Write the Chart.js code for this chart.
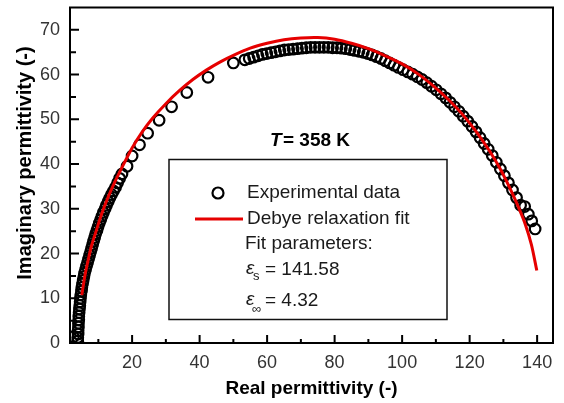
<!DOCTYPE html>
<html>
<head>
<meta charset="utf-8">
<script src="https://cdn.jsdelivr.net/npm/chart.js@4.4.1/dist/chart.umd.min.js"></script>
<style>
  html, body { margin: 0; padding: 0; background: #fff; }
  #wrap { width: 564px; height: 403px; }
</style>
</head>
<body>
<div id="wrap"><canvas id="chart"></canvas></div>
<script>
// experimental data (real / imaginary permittivity)
const realPerm = [
    2.6, 3.9, 3.9, 4.0, 4.0, 4.1, 4.1, 4.2, 4.2, 4.3, 4.4, 4.5, 4.6, 4.7, 4.8,
    5.0, 5.1, 5.3, 5.5, 5.7, 5.9, 6.2, 6.5, 6.8, 7.1, 7.4, 7.7, 8.0, 8.3, 8.6,
    8.9, 9.2, 9.6, 9.9, 10.3, 10.7, 11.1, 11.5, 12.0, 12.4, 12.9, 13.4, 13.9,
    14.5, 15.1, 15.7, 16.3, 17.0, 18.5, 20.0, 22.2, 24.6, 28.0, 31.7, 36.2,
    42.5, 50.0,
    53.4, 54.7, 56.0, 57.3, 58.6, 59.9, 61.2, 62.5, 63.8, 65.1, 66.4, 67.7,
    69.0, 70.3, 71.6, 72.9, 74.2, 75.5, 76.8, 78.1, 79.4, 80.7, 82.0, 83.3,
    84.6, 85.9, 87.2, 88.5, 89.8, 91.1, 92.4, 93.7, 95.0, 96.3, 97.6,
    98.9, 100.3, 101.7, 103.1, 104.5, 105.9, 107.3, 108.7, 110.1, 111.5,
    112.9, 114.2, 115.5, 116.8, 118.1, 119.4, 120.7, 121.9, 123.1, 124.3,
    125.5, 126.7, 127.9, 129.1, 130.3, 131.5, 132.7, 133.9, 135.1, 136.3,
    137.4, 138.4, 139.4
];
const imagPerm = [
    1.4, 0.4, 1.2, 2.0, 2.8, 3.6, 4.4, 5.2, 6.0, 6.8, 7.6, 8.4, 9.2, 10.0, 10.8,
    11.6, 12.4, 13.2, 14.0, 14.8, 15.6, 16.4, 17.2, 18.0, 18.8, 19.6, 20.4, 21.2, 22.0, 22.8,
    23.6, 24.4, 25.2, 26.0, 26.8, 27.6, 28.4, 29.2, 30.0, 30.8, 31.6, 32.4, 33.2,
    34.0, 34.8, 35.8, 36.8, 37.8, 39.5, 41.8, 44.3, 46.9, 49.8, 52.8, 56.0,
    59.4, 62.6,
    63.3, 63.6, 63.9, 64.2, 64.5, 64.7, 64.9, 65.1, 65.3, 65.5, 65.6, 65.7,
    65.8, 65.9, 66.0, 66.1, 66.1, 66.1, 66.1, 66.1, 66.0, 66.0, 65.9, 65.8,
    65.6, 65.4, 65.2, 65.0, 64.7, 64.4, 64.0, 63.6, 63.1, 62.6, 62.1,
    61.6, 61.1, 60.6, 60.1, 59.5, 58.9, 58.2, 57.4, 56.6, 55.7,
    54.8, 53.8, 52.8, 51.8, 50.7, 49.6, 48.4, 47.2, 45.9, 44.6,
    43.3, 41.9, 40.4, 38.9, 37.4, 35.8, 34.2, 32.5, 30.8, 30.5,
    28.8, 27.3, 25.5
];

// Debye relaxation fit curve
const fitReal = [
    5.1, 6, 7, 8, 9.5, 11, 13, 15, 17.5, 20, 23, 26, 30, 34, 38, 42, 46, 50,
    55, 60, 65, 70, 75, 80, 85, 90, 95, 100, 105, 110, 114, 118, 122, 126,
    129, 132, 134.5, 136.5, 138.3, 139.9
];
const fitImag = [
    10.7, 15.0, 18.6, 21.8, 25.4, 28.9, 32.8, 36.2, 40.0, 43.6, 47.2, 50.2,
    53.5, 56.4, 58.9, 61.0, 62.8, 64.3, 65.9, 67.0, 67.8, 68.2, 68.3, 67.9,
    67.0, 65.8, 64.2, 62.4, 60.0, 57.0, 54.2, 51.0, 47.2, 42.8, 39.0, 34.5,
    30.3, 26.5, 22.0, 16.2
];

const xTicks = [20, 40, 60, 80, 100, 120, 140];
const xMinor = [10, 30, 50, 70, 90, 110, 130];
const yTicks = [0, 10, 20, 30, 40, 50, 60, 70];
const yMinor = [5, 15, 25, 35, 45, 55, 65];

const FONT = "Arial, 'Liberation Sans', sans-serif";

const toPoints = (xs, ys) => xs.map((v, i) => ({ x: v, y: ys[i] }));

const frame = {
    id: 'frame',
    afterDraw(chart) {
        const { ctx, chartArea: a, scales: { x, y } } = chart;
        ctx.save();
        ctx.strokeStyle = '#000';
        ctx.lineWidth = 2;
        ctx.strokeRect(a.left, a.top, a.right - a.left, a.bottom - a.top);

        // inward ticks
        ctx.beginPath();
        xTicks.forEach(v => {
            const p = x.getPixelForValue(v);
            ctx.moveTo(p, a.bottom); ctx.lineTo(p, a.bottom - 8);
        });
        xMinor.forEach(v => {
            const p = x.getPixelForValue(v);
            ctx.moveTo(p, a.bottom); ctx.lineTo(p, a.bottom - 4);
        });
        yTicks.forEach(v => {
            const p = y.getPixelForValue(v);
            ctx.moveTo(a.left, p); ctx.lineTo(a.left + 9, p);
        });
        yMinor.forEach(v => {
            const p = y.getPixelForValue(v);
            ctx.moveTo(a.left, p); ctx.lineTo(a.left + 6, p);
        });
        ctx.stroke();

        // y axis title
        ctx.fillStyle = '#000';
        ctx.font = 'bold 20px ' + FONT;
        ctx.textAlign = 'center';
        ctx.textBaseline = 'middle';
        ctx.translate(25, 163);
        ctx.rotate(-Math.PI / 2);
        ctx.fillText('Imaginary permittivity (-)', 0, 0);
        ctx.setTransform(1, 0, 0, 1, 0, 0);

        // temperature label
        ctx.textAlign = 'left';
        ctx.font = 'italic bold 19px ' + FONT;
        ctx.fillText('T', 270, 141);
        ctx.font = 'bold 19px ' + FONT;
        ctx.fillText('= 358 K', 283, 141);

        // legend box
        ctx.lineWidth = 1.5;
        ctx.strokeStyle = '#111';
        ctx.strokeRect(169, 159.5, 278, 160);

        ctx.beginPath();
        ctx.lineWidth = 2.2;
        ctx.strokeStyle = '#000';
        ctx.arc(218, 193, 5.5, 0, Math.PI * 2);
        ctx.stroke();

        ctx.beginPath();
        ctx.lineWidth = 3;
        ctx.strokeStyle = 'rgb(230,0,0)';
        ctx.moveTo(195, 219); ctx.lineTo(243, 219);
        ctx.stroke();

        ctx.fillStyle = '#1a1a1a';
        ctx.font = '19px ' + FONT;
        ctx.fillText('Experimental data', 247, 193);
        ctx.fillText('Debye relaxation fit', 247, 219);
        ctx.fillText('Fit parameters:', 245, 244);

        ctx.font = 'italic 19px ' + FONT;
        ctx.fillText('\u03b5', 246, 269);
        ctx.fillText('\u03b5', 246, 300);
        ctx.font = '13px ' + FONT;
        ctx.fillText('s', 253, 276);
        ctx.fillText('\u221e', 252, 309);
        ctx.font = '19px ' + FONT;
        ctx.fillText('= 141.58', 265, 270);
        ctx.fillText('= 4.32', 265, 301);
        ctx.restore();
    }
};

new Chart(document.getElementById('chart'), {
    type: 'scatter',
    data: {
        datasets: [{
            label: 'Debye relaxation fit',
            type: 'line',
            data: toPoints(fitReal, fitImag),
            borderColor: 'rgb(230,0,0)',
            borderWidth: 3,
            pointRadius: 0,
            tension: 0.3,
            fill: false,
            clip: 0
        }, {
            label: 'Experimental data',
            data: toPoints(realPerm, imagPerm),
            pointStyle: 'circle',
            pointRadius: 5.3,
            borderWidth: 2.2,
            borderColor: '#000',
            backgroundColor: 'rgba(0,0,0,0)',
            clip: 0
        }]
    },
    options: {
        responsive: true,
        maintainAspectRatio: false,
        animation: false,
        layout: { padding: { top: 7, right: 11, left: 0, bottom: 0 } },
        plugins: {
            legend: { display: false },
            tooltip: { enabled: false }
        },
        scales: {
            x: {
                type: 'linear',
                min: 1.6,
                max: 144.7,
                afterBuildTicks: s => { s.ticks = xTicks.map(v => ({ value: v })); },
                afterFit: s => { s.height = 60; s.paddingLeft = 0; s.paddingRight = 0; },
                grid: { display: false, drawTicks: false },
                border: { display: false },
                ticks: {
                    padding: 9,
                    color: '#333',
                    font: { family: FONT, size: 18 }
                },
                title: {
                    display: true,
                    text: 'Real permittivity (-)',
                    color: '#000',
                    font: { family: FONT, size: 19, weight: 'bold' },
                    padding: { top: 0, bottom: 3 }
                }
            },
            y: {
                type: 'linear',
                min: 0,
                max: 75,
                afterBuildTicks: s => { s.ticks = yTicks.map(v => ({ value: v })); },
                afterFit: s => { s.width = 70; s.paddingTop = 0; s.paddingBottom = 0; },
                grid: { display: false, drawTicks: false },
                border: { display: false },
                ticks: {
                    padding: 10,
                    color: '#333',
                    font: { family: FONT, size: 18 }
                }
            }
        }
    },
    plugins: [frame]
});
</script>
</body>
</html>
